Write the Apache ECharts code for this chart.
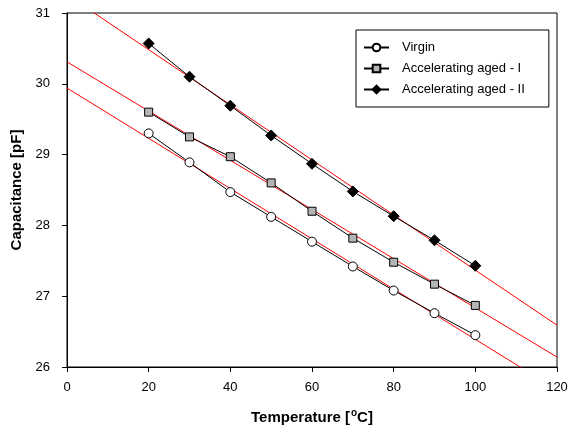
<!DOCTYPE html>
<html>
<head>
<meta charset="utf-8">
<title>Capacitance vs Temperature</title>
<script src="https://cdn.jsdelivr.net/npm/echarts@6/dist/echarts.min.js"></script>
<style>
html, body {
	margin: 0;
	padding: 0;
	background: #fff;
}
#chart {
	width: 569px;
	height: 430px;
}
</style>
</head>
<body>
	<div id="chart"></div>
	<script>
		// measured points
		var temps = [20, 30, 40, 50, 60, 70, 80, 90, 100];
		var virgin = [29.30, 28.89, 28.47, 28.12, 27.77, 27.42, 27.08, 26.76, 26.45];
		var agedI = [29.60, 29.25, 28.97, 28.60, 28.20, 27.82, 27.48, 27.17, 26.87];
		var agedII = [30.57, 30.10, 29.69, 29.27, 28.87, 28.48, 28.13, 27.79, 27.43];
		// red fitted lines, read at x = 0 and x = 120
		var fitX = [0, 120];
		var fitVirgin = [29.94, 25.68];
		var fitAgedI = [30.31, 26.14];
		var fitAgedII = [31.26, 26.59];
		var xTicks = [0, 20, 40, 60, 80, 100, 120];
		var yTicks = [26, 27, 28, 29, 30, 31];

		var names = ['Virgin', 'Accelerating aged - I', 'Accelerating aged - II'];

		var zip = function(xs, ys) {
			return xs.map(function(x, i) { return [x, ys[i]]; });
		};

		var fitSeries = function(ys) {
			return {
				type: 'line',
				data: zip(fitX, ys),
				symbol: 'none',
				silent: true,
				z: 1,
				lineStyle: { color: '#ff0000', width: 1 }
			};
		};

		var dataSeries = function(name, ys, symbol, size, fill) {
			return {
				name: name,
				type: 'line',
				data: zip(temps, ys),
				symbol: symbol,
				symbolSize: size,
				showSymbol: true,
				z: 3,
				lineStyle: { color: '#000', width: 1 },
				itemStyle: { color: fill, borderColor: '#000', borderWidth: 1 }
			};
		};

		var chart = echarts.init(document.getElementById('chart'));
		chart.setOption({
			animation: false,
			textStyle: { fontFamily: 'Liberation Sans, Arial, sans-serif' },
			grid: {
				left: 67, right: 12, top: 13, bottom: 63,
				outerBoundsMode: 'none',
				show: true, borderColor: '#000', borderWidth: 1
			},
			legend: {
				data: names,
				orient: 'vertical',
				left: 356,
				top: 30,
				padding: [11, 24, 11, 7],
				itemGap: 8,
				itemWidth: 25,
				itemHeight: 9.5,
				borderColor: '#000',
				borderWidth: 1,
				backgroundColor: '#fff',
				textStyle: { fontSize: 13, color: '#000', padding: [0, 0, 0, 8] }
			},
			xAxis: {
				type: 'value',
				min: xTicks[0],
				max: xTicks[xTicks.length - 1],
				interval: 20,
				name: 'Temperature [{sup|o}C]',
				nameLocation: 'middle',
				nameGap: 41,
				nameTextStyle: {
					fontSize: 15, fontWeight: 'bold', color: '#000',
					rich: {
						sup: { fontSize: 10, fontWeight: 'bold', color: '#000', verticalAlign: 'top', padding: [0, 0, 10, 1] }
					}
				},
				axisLine: { lineStyle: { color: '#000', width: 1 } },
				axisTick: { length: 5, lineStyle: { color: '#000' } },
				axisLabel: { fontSize: 13, color: '#000', margin: 14 },
				splitLine: { show: false }
			},
			yAxis: {
				type: 'value',
				min: yTicks[0],
				max: yTicks[yTicks.length - 1],
				interval: 1,
				name: 'Capacitance [pF]',
				nameLocation: 'middle',
				nameGap: 42,
				nameTextStyle: { fontSize: 15, fontWeight: 'bold', color: '#000' },
				axisLine: { show: true, lineStyle: { color: '#000', width: 1 } },
				axisTick: { show: true, length: 5, lineStyle: { color: '#000' } },
				axisLabel: { fontSize: 13, color: '#000', margin: 17 },
				splitLine: { show: false }
			},
			series: [
				fitSeries(fitVirgin),
				fitSeries(fitAgedI),
				fitSeries(fitAgedII),
				dataSeries(names[0], virgin, 'circle', 9, '#fff'),
				dataSeries(names[1], agedI, 'rect', 8, '#b4b4b4'),
				dataSeries(names[2], agedII, 'diamond', 11, '#000')
			]
		});
	</script>
</body>
</html>
